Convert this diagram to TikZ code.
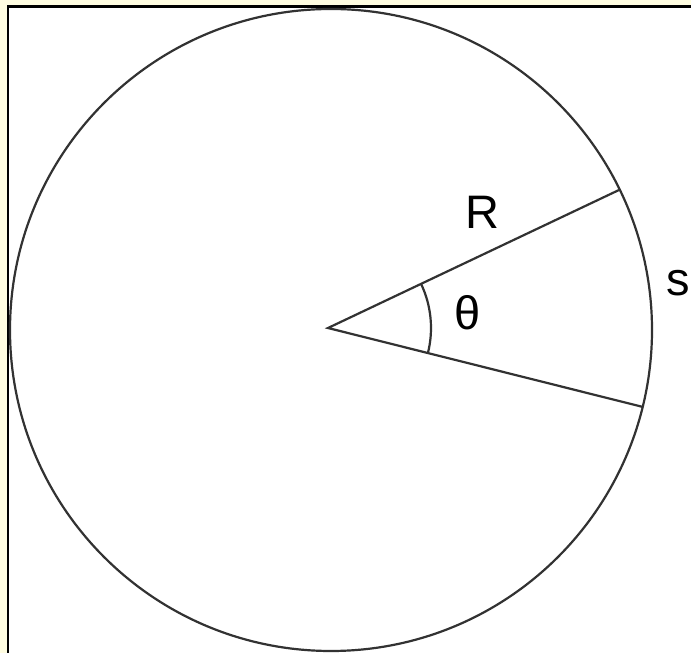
\documentclass[tikz,border=0pt]{standalone}
\usepackage{fontspec}
\setmainfont{Liberation Sans}
\begin{document}
\begin{tikzpicture}[x=1pt,y=1pt,
  ink/.style={draw={rgb,255:red,50;green,50;blue,50}, line width=2.2pt},
  lbl/.style={inner sep=0pt, font=\fontsize{47}{50}\selectfont}]
\definecolor{cream}{RGB}{255,253,225}
\useasboundingbox (0,0) rectangle (691,653);
\fill[cream] (0,0) rectangle (691,653);
\begin{scope}
\clip (0,0) rectangle (691,653);
\draw[black, line width=2.8pt, fill=white] (8,646.5) rectangle (740,-40);
\coordinate (C) at (331,323);
\draw[ink] (C) circle (321pt);
\end{scope}
\coordinate (O) at (328,325);
\coordinate (A) at (619,463);
\coordinate (B) at (643,246);
\draw[ink] (A) -- (O) -- (B);
\draw[ink] ([shift={(25.4:103pt)}]O) arc[start angle=25.4, end angle=-14.1, radius=103pt];
\node[lbl] (r) at (482,441) {R};
\node[lbl] (th) at (468,340) {θ};
\node[lbl] (s) at (678,370) {s};
\end{tikzpicture}
\end{document}
